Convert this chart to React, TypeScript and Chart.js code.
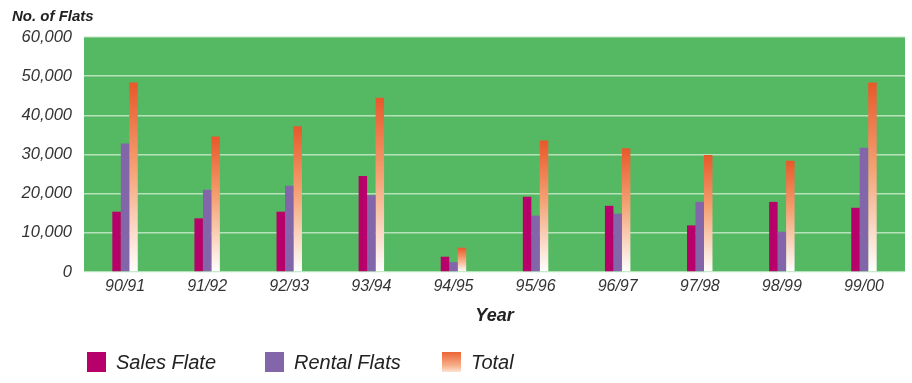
import React, { useEffect, useRef } from "react";
import { Chart, registerables } from "chart.js";

Chart.register(...registerables);

// Flats produced per year
const categories = ["90/91", "91/92", "92/93", "93/94", "94/95", "95/96", "96/97", "97/98", "98/99", "99/00"];
const salesFlats = [15400, 13700, 15400, 24500, 3900, 19200, 16900, 11900, 17900, 16400];
const rentalFlats = [32800, 21000, 22000, 19600, 2500, 14400, 14900, 17900, 10300, 31700];
const totalFlats = [48400, 34600, 37200, 44500, 6200, 33600, 31600, 29900, 28400, 48400];

const yTicks = [0, 10000, 20000, 30000, 40000, 50000, 60000];

const FONT = "'Liberation Sans', Arial, sans-serif";
const TEXT = "#333333";
const GREEN = "#55B964";
const SALES = "#B8006A";
const RENTAL = "#8266A9";
const TOTAL_TOP = "#E8582A";

const legendItems = [
  { label: "Sales Flate", fill: SALES, left: 87 },
  { label: "Rental Flats", fill: RENTAL, left: 265 },
  { label: "Total", fill: "linear-gradient(#EC6434, #F7B28C 70%, #FDE3D3)", left: 442 },
];

const plotBackground = {
  id: "plotBackground",
  beforeDraw(chart: any) {
    const { ctx, chartArea } = chart;
    ctx.save();
    ctx.fillStyle = GREEN;
    ctx.fillRect(chartArea.left, chartArea.top, chartArea.right - chartArea.left, chartArea.bottom - chartArea.top);
    ctx.restore();
  },
};

function totalGradient(c: any) {
  const chart = c.chart;
  const { ctx, chartArea, scales } = chart;
  if (!chartArea || c.type !== "data" || !scales.y) return TOTAL_TOP;
  const v = c.raw as number;
  const yTop = scales.y.getPixelForValue(v);
  const yBot = scales.y.getPixelForValue(0);
  const g = ctx.createLinearGradient(0, yTop, 0, yBot);
  g.addColorStop(0, TOTAL_TOP);
  g.addColorStop(0.45, "#F4A173");
  g.addColorStop(1, "#FFFFFF");
  return g;
}

export default function App() {
  const canvasRef = useRef<HTMLCanvasElement | null>(null);

  useEffect(() => {
    if (!canvasRef.current) return;
    const chart = new Chart(canvasRef.current, {
      type: "bar",
      data: {
        labels: categories,
        datasets: [
          { label: "Sales Flate", data: salesFlats, backgroundColor: SALES },
          { label: "Rental Flats", data: rentalFlats, backgroundColor: RENTAL },
          { label: "Total", data: totalFlats, backgroundColor: totalGradient as any },
        ],
      },
      options: {
        responsive: false,
        animation: false,
        events: [],
        datasets: {
          bar: { categoryPercentage: 0.31, barPercentage: 1.0, borderWidth: 0 },
        },
        layout: { padding: { left: 12, right: 7, top: 0, bottom: 56 } },
        plugins: {
          legend: { display: false },
          tooltip: { enabled: false },
          title: {
            display: true,
            text: "No. of Flats",
            align: "start",
            color: "#222222",
            font: { family: FONT, size: 15, weight: "bold", style: "italic", lineHeight: 1.2 },
            padding: { top: 8, bottom: 11 },
          },
        },
        scales: {
          x: {
            grid: { display: false, drawTicks: false },
            border: { display: false },
            ticks: {
              color: TEXT,
              padding: 5,
              font: { family: FONT, size: 16, style: "italic" },
            },
            title: {
              display: true,
              text: "Year",
              color: "#222222",
              padding: 0,
              font: { family: FONT, size: 18, style: "italic", weight: "bold", lineHeight: 1.2 },
            },
            afterFit(scale: any) {
              scale.height = 55;
            },
          },
          y: {
            min: 0,
            max: 60000,
            afterBuildTicks(scale: any) {
              scale.ticks = yTicks.map((v) => ({ value: v }));
            },
            grid: { color: "rgba(215,240,215,0.75)", lineWidth: 1.5, drawTicks: false },
            border: { display: false },
            ticks: {
              color: TEXT,
              padding: 12,
              font: { family: FONT, size: 16.5, style: "italic" },
              callback: (v: any) => Number(v).toLocaleString("en-US"),
            },
            afterFit(scale: any) {
              scale.width = 72;
            },
          },
        },
      },
      plugins: [plotBackground],
    });
    return () => chart.destroy();
  }, []);

  return (
    <div style={{ position: "absolute", left: 0, top: 0, width: 912, height: 383, background: "#ffffff" }}>
      <canvas ref={canvasRef} width={912} height={383} style={{ display: "block" }} />
      {legendItems.map((it) => (
        <div
          key={it.label}
          style={{
            position: "absolute",
            left: it.left,
            top: 352,
            height: 20,
            display: "flex",
            alignItems: "center",
            fontFamily: FONT,
            fontStyle: "italic",
            fontSize: 20,
            color: "#222222",
            whiteSpace: "nowrap",
          }}
        >
          <span style={{ display: "inline-block", width: 19, height: 20, background: it.fill, marginRight: 10 }} />
          <span>{it.label}</span>
        </div>
      ))}
    </div>
  );
}
